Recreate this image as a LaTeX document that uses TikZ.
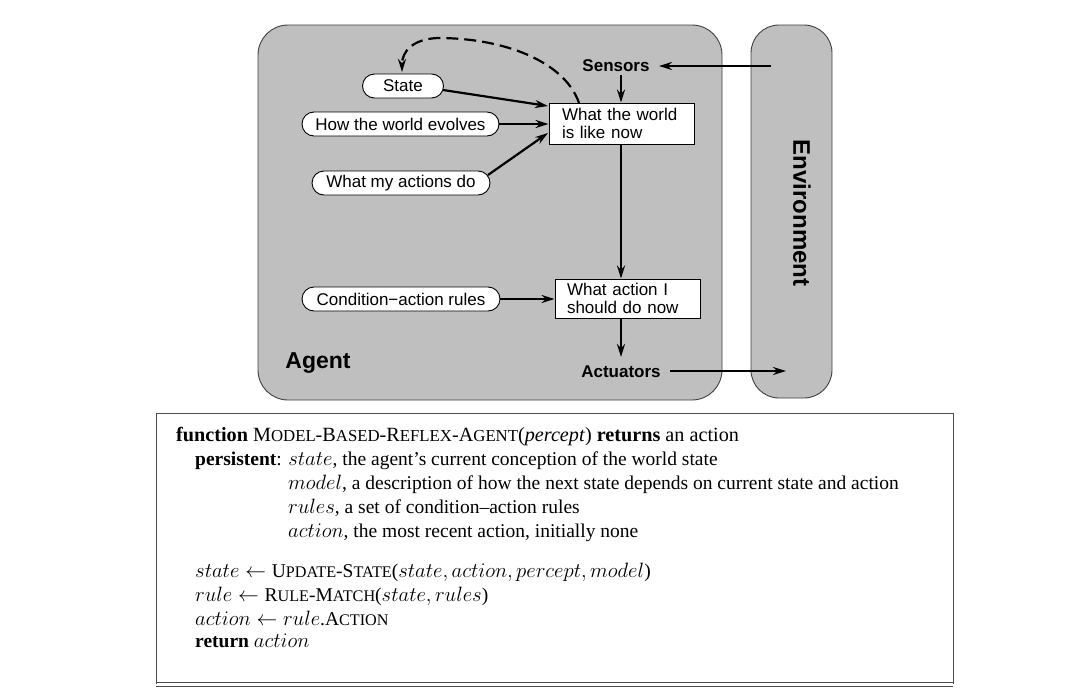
\documentclass[tikz,border=0pt]{standalone}
\usepackage{fontspec}
\setmainfont{Liberation Serif}
\newfontfamily\diagfont{Liberation Sans}
\usetikzlibrary{shapes.misc,arrows.meta}
\newcommand\fsc[1]{{\fontsize{0.83\dimexpr\csname f@size\endcsname pt\relax}{20}\selectfont\uppercase{#1}}}
\begin{document}
\begin{tikzpicture}[x=1pt,y=-1pt,
  panel/.style={draw=black!75,line width=0.9pt,fill=black!25,rounded corners=30pt},
  pill/.style={rounded rectangle,draw,line width=0.9pt,fill=white,font=\diagfont\fontsize{17}{19}\selectfont,inner sep=0pt,minimum height=24pt},
  procbox/.style={draw,line width=0.9pt,fill=white,font=\diagfont\fontsize{17}{17}\selectfont,align=left,inner ysep=0pt,text width=#1},
  lbl/.style={font=\diagfont\bfseries\fontsize{17}{19}\selectfont,inner sep=0pt},
  conn/.style={-{Stealth[length=13pt,width=8pt]},line width=2.2pt},
  code/.style={anchor=base west,inner sep=0pt,font=\fontsize{19.5}{24}\selectfont}
]
\useasboundingbox (0,0) rectangle (1090,696);
% panels
\path[panel] (258,25) rectangle (722,400);
\path[panel,rounded corners=28pt] (751,25) rectangle (832,398);
\node[font=\diagfont\bfseries\fontsize{23}{25}\selectfont,inner sep=0pt] (agent) at (318,363) {Agent};
\node[font=\diagfont\bfseries\fontsize{24}{26}\selectfont,inner sep=0pt,rotate=-90] (env) at (802,213) {Environment};
% labels
\node[lbl] (sensors) at (616,66) {Sensors};
\node[lbl] (actuators) at (621,372) {Actuators};
\coordinate (envin) at (771,66);
\coordinate (envout) at (786,371);
\coordinate (sensin) at (659,66);
\coordinate (actout) at (670,371);
\coordinate (actin) at (621,357);
% nodes
\node[pill,minimum width=81pt] (state) at (403,86) {State};
\node[pill,minimum width=197pt] (evolves) at (400.5,124) {How the world evolves};
\node[pill,minimum width=178pt] (actions) at (401,183) {What my actions do};
\node[pill,minimum width=198pt] (rules) at (401,299) {Condition{\fontspec{Liberation Sans}−}action rules};
\node[procbox=119pt,minimum height=41pt,inner xsep=13pt] (world) at (621.5,123.5) {What the world\\[1pt]is like now};
\node[procbox=121pt,minimum height=39pt,inner xsep=12pt] (act) at (627.5,298.5) {What action I\\[1pt]should do now};
% connectors
\draw[conn] (envin) -- (sensin);
\draw[conn] (621,75) -- (world.north -| 621,0);
\draw[conn] (443,90) -- (548,106);
\draw[conn] (evolves.east) -- (world.west |- evolves.east);
\draw[conn] (488,175) -- (548,133);
\draw[conn] (world.south -| 621,0) -- (act.north -| 621,0);
\draw[conn] (rules.east) -- (act.west |- rules.east);
\draw[conn] (act.south -| 621,0) -- (actin);
\draw[conn] (actout) -- (envout);
\draw[-{Stealth[length=13pt,width=8pt]},line width=2.2pt,dash pattern=on 12pt off 6pt]
  (579,103) .. controls (565,62) and (505,38) .. (438,38)
  .. controls (412,39) and (402,52) .. (402,72);
% code box
\draw[black!70,line width=1pt] (156,684) -- (156,413) -- (953,413) -- (953,684);
\draw[black!70,line width=1pt] (156,682) -- (953,682);
\draw[black!70,line width=1pt] (156,686) -- (953,686);
\node[code,font=\fontsize{20.2}{24}\selectfont] (l1) at (176,441) {\textbf{function} M\fsc{odel}-B\fsc{ased}-R\fsc{eflex}-A\fsc{gent}(\textit{percept}) \textbf{returns} an action};
\node[code] (l2) at (195,465) {\textbf{persistent}: $state$, the agent’s current conception of the world state};
\node[code] (l3) at (288,489) {$model$, a description of how the next state depends on current state and action};
\node[code] (l4) at (288,513) {$rules$, a set of condition–action rules};
\node[code] (l5) at (288,537) {$action$, the most recent action, initially none};
\node[code] (l6) at (195,577) {$state\leftarrow{}$U\fsc{pdate}-S\fsc{tate}($state, action, percept, model$)};
\node[code] (l7) at (195,601) {$rule\leftarrow{}$R\fsc{ule}-M\fsc{atch}($state, rules$)};
\node[code] (l8) at (195,625) {$action\leftarrow rule$.A\fsc{ction}};
\node[code] (l9) at (195,647) {\textbf{return} $action$};
\end{tikzpicture}
\end{document}
